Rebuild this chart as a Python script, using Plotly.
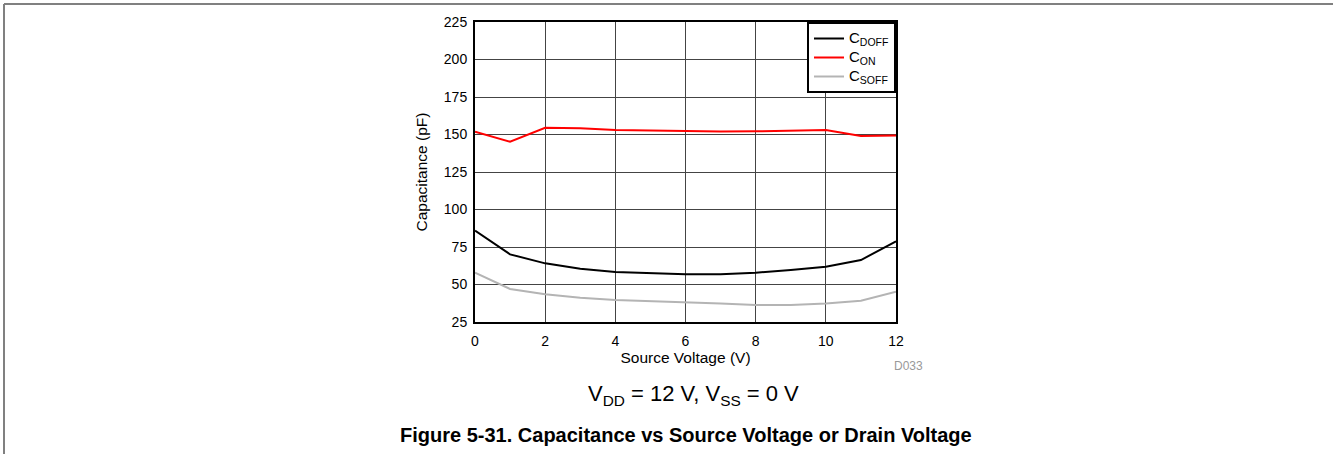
import plotly.graph_objects as go

# Data
source_v = [0, 1, 2, 3, 4, 5, 6, 7, 8, 9, 10, 11, 12]
c_doff = [85.9, 70.1, 64.1, 60.5, 58.3, 57.4, 56.8, 56.9, 57.9, 59.7, 61.9, 66.3, 78.8]
c_on = [151.9, 145.2, 154.5, 154.2, 153.0, 152.5, 152.1, 152.0, 152.1, 152.5, 153.0, 149.0, 149.3]
c_soff = [57.9, 47.0, 43.5, 41.2, 39.7, 39.0, 38.3, 37.4, 36.3, 36.3, 37.4, 39.2, 45.2]
y_ticks = [25, 50, 75, 100, 125, 150, 175, 200, 225]
x_ticks = [0, 2, 4, 6, 8, 10, 12]

FONT = "Liberation Sans, Arial, sans-serif"


def leg(sub):
    # big text, small legend line spacing
    return "<span style='font-size:15px'>C<sub>%s</sub></span>" % sub


fig = go.Figure()
fig.add_trace(go.Scatter(x=source_v, y=c_doff, mode="lines", name=leg("DOFF"),
                         line=dict(color="black", width=2)))
fig.add_trace(go.Scatter(x=source_v, y=c_on, mode="lines", name=leg("ON"),
                         line=dict(color="#ff0000", width=2)))
fig.add_trace(go.Scatter(x=source_v, y=c_soff, mode="lines", name=leg("SOFF"),
                         line=dict(color="#b4b4b4", width=2)))

# plot area: x 475..896, y 22..322 in pixels
L, R, T, B = 475, 1333 - 896, 22, 454 - 322
pw, ph = 1333 - L - R, 454 - T - B


def px(x):
    return (x - L) / pw


def py(y):
    return (454 - B - y) / ph


fig.update_layout(
    width=1333, height=454,
    margin=dict(l=L, r=R, t=T, b=B),
    paper_bgcolor="white", plot_bgcolor="white",
    font=dict(family=FONT, size=14, color="black"),
    showlegend=True,
    legend=dict(x=1, y=1, xanchor="right", yanchor="top",
                bordercolor="black", borderwidth=2, bgcolor="white",
                font=dict(size=12), tracegroupgap=0, itemwidth=30),
    xaxis=dict(range=[0, 12], tickvals=x_ticks, showgrid=True, gridcolor="#444", gridwidth=1,
               showline=True, linecolor="black", linewidth=2, mirror=True, zeroline=False,
               ticks="", tickfont=dict(size=14), ticklabelstandoff=5,
               title=dict(text="Source Voltage (V)", standoff=2, font=dict(size=15.5))),
    yaxis=dict(range=[25, 225], tickvals=y_ticks, showgrid=True, gridcolor="#444", gridwidth=1,
               showline=True, linecolor="black", linewidth=2, mirror=True, zeroline=False,
               ticks="", tickfont=dict(size=14), ticklabelstandoff=3,
               title=dict(text="Capacitance (pF)", standoff=12, font=dict(size=15.5))),
)

fig.add_annotation(x=px(908), y=py(366), xref="paper", yref="paper", text="D033",
                   showarrow=False, xanchor="center", yanchor="middle",
                   font=dict(size=12, color="#999999"))
fig.add_annotation(x=px(693), y=py(395), xref="paper", yref="paper",
                   text="V<sub>DD</sub> = 12 V, V<sub>SS</sub> = 0 V",
                   showarrow=False, xanchor="center", yanchor="middle", font=dict(size=22))
fig.add_annotation(x=px(686), y=py(435), xref="paper", yref="paper",
                   text="<b>Figure 5-31. Capacitance vs Source Voltage or Drain Voltage</b>",
                   showarrow=False, xanchor="center", yanchor="middle", font=dict(size=20))

# page frame lines (top and left)
fig.add_shape(type="line", xref="paper", yref="paper", x0=px(4), x1=px(1334), y0=py(4), y1=py(4),
              line=dict(color="#808080", width=2))
fig.add_shape(type="line", xref="paper", yref="paper", x0=px(4), x1=px(4), y0=py(4), y1=py(455),
              line=dict(color="#808080", width=2))

fig.write_html("out.html", config={"displayModeBar": False},
               post_script="document.body.style.margin='0';")
